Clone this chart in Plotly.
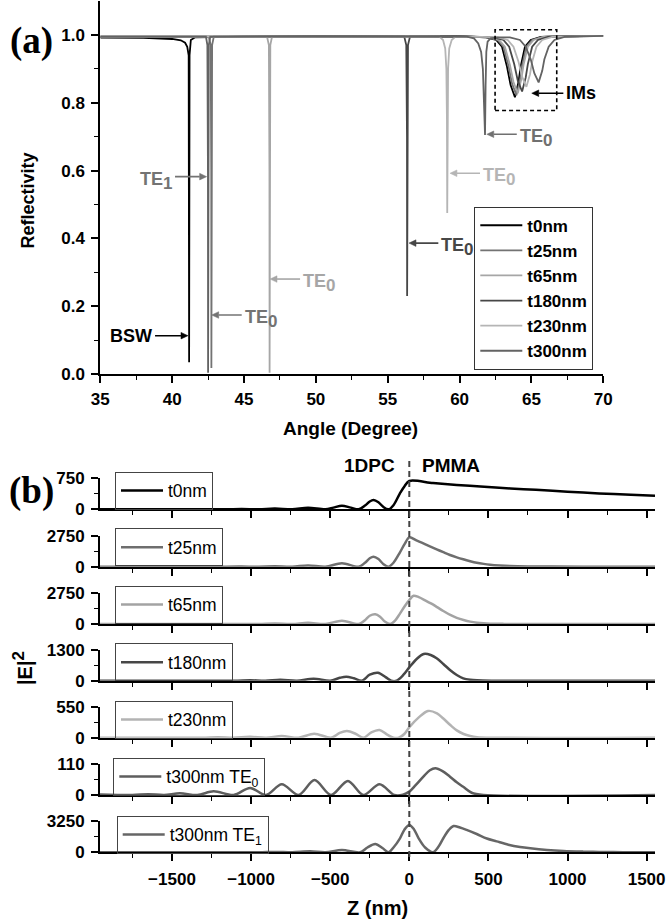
import plotly.graph_objects as go

W, H = 668, 919
FONT = "Liberation Sans, Arial, sans-serif"
SERIF = "Liberation Serif, Times New Roman, serif"

# ---------------- Panel (a): reflectivity vs angle ----------------
names_a = ["t0nm", "t25nm", "t65nm", "t180nm", "t230nm", "t300nm"]
colors_a = ["#000000", "#737373", "#a6a6a6", "#474747", "#b5b5b5", "#636363"]

ang_t0 = [35, 38, 40, 40.6, 40.9, 41.05, 41.15, 41.18, 41.21, 41.3, 41.6, 45, 55, 60,
          61.85, 62.55, 62.95, 63.3, 63.55, 63.85, 64.1, 64.25, 64.55, 64.95, 65.65, 67, 70]
ref_t0 = [0.992, 0.991, 0.988, 0.984, 0.977, 0.965, 0.94, 0.035, 0.94, 0.985, 0.993, 0.995, 0.996, 0.996,
          0.993, 0.985, 0.965, 0.906, 0.852, 0.816, 0.861, 0.906, 0.965, 0.985, 0.994, 0.996, 0.997]

ang_t25 = [35, 42.55, 42.68, 42.72, 42.73, 42.74, 42.78, 42.9, 50, 60,
           61.95, 62.65, 63.05, 63.4, 63.65, 63.95, 64.2, 64.35, 64.65, 65.05, 65.75, 67, 70]
ref_t25 = [0.995, 0.995, 0.97, 0.6, 0.018, 0.6, 0.97, 0.995, 0.996, 0.996,
           0.993, 0.985, 0.965, 0.909, 0.857, 0.822, 0.865, 0.909, 0.965, 0.985, 0.994, 0.996, 0.997]

ang_t65 = [35, 46.6, 46.73, 46.77, 46.78, 46.79, 46.83, 46.95, 55, 60,
           62.05, 62.75, 63.15, 63.5, 63.75, 64.05, 64.3, 64.45, 64.75, 65.15, 65.85, 67, 70]
ref_t65 = [0.995, 0.995, 0.97, 0.6, 0.004, 0.6, 0.97, 0.995, 0.996, 0.996,
           0.993, 0.985, 0.965, 0.912, 0.861, 0.828, 0.870, 0.912, 0.965, 0.985, 0.994, 0.996, 0.997]

ang_t180 = [35, 56.15, 56.29, 56.34, 56.35, 56.36, 56.41, 56.55, 60,
            62.35, 63.05, 63.45, 63.8, 64.05, 64.35, 64.6, 64.75, 65.05, 65.45, 66.15, 67.5, 70]
ref_t180 = [0.995, 0.995, 0.97, 0.7, 0.23, 0.7, 0.97, 0.995, 0.996,
            0.993, 0.985, 0.965, 0.914, 0.865, 0.833, 0.874, 0.914, 0.965, 0.985, 0.994, 0.996, 0.997]

ang_t230 = [35, 58.6, 58.85, 59.0, 59.08, 59.12, 59.14, 59.16, 59.2, 59.28, 59.45, 59.7, 61,
            62.65, 63.35, 63.75, 64.1, 64.35, 64.65, 64.9, 65.05, 65.35, 65.75, 66.45, 68, 70]
ref_t230 = [0.995, 0.995, 0.985, 0.96, 0.9, 0.75, 0.475, 0.75, 0.9, 0.96, 0.985, 0.994, 0.995,
            0.993, 0.985, 0.965, 0.921, 0.877, 0.847, 0.884, 0.921, 0.965, 0.985, 0.994, 0.996, 0.997]

ang_t300 = [35, 42.35, 42.45, 42.49, 42.5, 42.51, 42.55, 42.65, 50, 60.5, 61.0, 61.3, 61.5, 61.62,
            61.71, 61.77, 61.81, 61.86, 61.95, 62.15, 62.6, 63.5, 64.2, 64.6, 64.95, 65.2, 65.5,
            65.75, 65.9, 66.2, 66.6, 67.3, 70]
ref_t300 = [0.995, 0.995, 0.97, 0.6, 0.004, 0.6, 0.97, 0.995, 0.996, 0.995, 0.99, 0.975, 0.95, 0.9,
            0.8, 0.705, 0.85, 0.95, 0.98, 0.99, 0.993, 0.993, 0.985, 0.965, 0.928, 0.887, 0.860,
            0.894, 0.928, 0.965, 0.985, 0.994, 0.997]

angles_a = [ang_t0, ang_t25, ang_t65, ang_t180, ang_t230, ang_t300]
refl_a = [ref_t0, ref_t25, ref_t65, ref_t180, ref_t230, ref_t300]

# ---------------- Panel (b): |E|^2 vs Z ----------------
names_b = ["t0nm", "t25nm", "t65nm", "t180nm", "t230nm", "t300nm TE<sub>0</sub>", "t300nm TE<sub>1</sub>"]
colors_b = ["#000000", "#6e6e6e", "#a3a3a3", "#474747", "#b3b3b3", "#5e5e5e", "#666666"]
ymax_b = [750, 2750, 2750, 1300, 550, 110, 3250]

z1 = [-1955, -1370, -1270, -1160, -1060, -950, -850, -740, -640, -530, -480, -426, -370, -320, -280, -250,
      -226, -195, -165, -131, -100, -60, -30, 0, 150, 300, 450, 638, 800, 1000, 1200, 1400, 1553]
e1 = [1, 0, 4, 0, 8, 0, 18, 0, 39, 0, 40, 87, 40, 0, 90, 190,
      225, 170, 60, 0, 100, 380, 560, 685, 635, 590, 550, 505, 470, 425, 385, 350, 325]

z2 = [-1955, -1160, -1060, -950, -850, -740, -640, -530, -426, -320, -280, -250, -226, -195, -165, -131,
      -100, -60, -30, 0, 45, 89, 130, 173, 215, 257, 300, 341, 385, 426, 470, 510, 570, 636, 750, 900, 1100, 1553]
e2 = [0, 0, 10, 0, 30, 0, 110, 0, 300, 0, 350, 750, 887, 680, 250, 0,
      350, 1250, 2000, 2600, 2330, 2076, 1810, 1543, 1285, 1038, 830, 656, 490, 355, 250, 177, 110, 62, 25, 8, 2, 0]

z3 = [-1955, -1160, -1060, -950, -850, -740, -640, -530, -426, -320, -280, -250, -215, -185, -155, -120,
      -90, -60, -30, 0, 27, 60, 100, 140, 175, 215, 259, 300, 343, 385, 428, 470, 510, 600, 700, 1553]
e3 = [0, 0, 10, 0, 35, 0, 100, 0, 290, 0, 340, 730, 860, 650, 230, 0,
      300, 900, 1550, 2130, 2510, 2380, 2100, 1800, 1500, 1150, 800, 550, 355, 210, 115, 60, 30, 10, 3, 0]

z4 = [-1955, -1110, -1006, -910, -816, -710, -605, -500, -440, -398, -350, -300, -250, -198, -150, -115,
      -80, -38, 0, 45, 91, 135, 173, 215, 257, 300, 341, 385, 428, 520, 1553]
e4 = [0, 0, 20, 0, 40, 0, 84, 0, 120, 168, 100, 0, 250, 335, 150, 0,
      0, 240, 560, 900, 1120, 1080, 940, 700, 450, 240, 100, 40, 15, 0, 0]

z5 = [-1955, -1310, -1210, -1110, -1006, -905, -806, -700, -601, -495, -440, -394, -340, -290, -240, -188,
      -140, -100, -67, -30, 0, 60, 118, 175, 215, 259, 300, 343, 385, 428, 520, 1553]
e5 = [0, 0, 8, 0, 15, 0, 30, 0, 71, 0, 85, 119, 70, 0, 95, 137,
      55, 0, 0, 70, 185, 360, 474, 433, 340, 225, 130, 66, 30, 10, 0, 0]

z6 = [-1955, -1750, -1650, -1550, -1450, -1340, -1237, -1110, -1006, -905, -806, -700, -599, -495, -388,
      -290, -188, -95, -40, 0, 40, 89, 130, 165, 210, 257, 300, 341, 394, 468, 1553]
e6 = [2, 0, 3, 0, 6, 0, 13, 0, 25, 0, 38, 0, 53, 0, 50,
      0, 38, 0, 1, 12, 35, 65, 88, 95, 85, 65, 45, 29, 8, 0, 0]

z7 = [-1955, -1160, -1050, -950, -840, -740, -626, -530, -426, -310, -265, -215, -170, -131, -100, -59, -30,
      0, 30, 59, 100, 150, 185, 215, 250, 280, 320, 362, 426, 490, 552, 626, 700, 765, 870, 975, 1100, 1200,
      1350, 1553]
e7 = [0, 0, 15, 0, 40, 0, 100, 0, 240, 0, 500, 870, 450, 0, 500, 1470, 2400,
      2862, 2400, 1470, 500, 0, 600, 1470, 2350, 2757, 2600, 2350, 1919, 1450, 1150, 800, 560, 420, 250, 140,
      70, 35, 12, 3]

z_b = [z1, z2, z3, z4, z5, z6, z7]
e_b = [e1, e2, e3, e4, e5, e6, e7]

# ---------------- layout helpers (positions in pixels) ----------------
def fx(p):
    return p / W

def fy(p):
    return 1 - p / H

fig = go.Figure()

for name, col, xs, ys in zip(names_a, colors_a, angles_a, refl_a):
    fig.add_trace(go.Scatter(x=xs, y=ys, mode="lines", name=name,
                             line=dict(color=col, width=1.8), xaxis="x", yaxis="y",
                             legend="legend"))

for i, (name, col, xs, ys) in enumerate(zip(names_b, colors_b, z_b, e_b)):
    fig.add_trace(go.Scatter(x=xs, y=ys, mode="lines", name=name,
                             line=dict(color=col, width=2.5, shape="spline", smoothing=0.9),
                             xaxis="x%d" % (i + 2), yaxis="y%d" % (i + 2),
                             legend="legend%d" % (i + 2)))

tickfont = dict(family=FONT, size=17, color="black", weight="bold")

layout = dict(
    width=W, height=H, autosize=False,
    margin=dict(l=0, r=0, t=0, b=0, autoexpand=False),
    paper_bgcolor="white", plot_bgcolor="white",
    font=dict(family=FONT, color="black"),
    showlegend=True,
)

layout["xaxis"] = dict(
    domain=[fx(100.3), fx(603.3)], range=[35, 70], anchor="y",
    tickmode="linear", tick0=35, dtick=5,
    ticks="outside", ticklen=7, tickwidth=1.5, tickcolor="black",
    minor=dict(dtick=2.5, ticks="outside", ticklen=4, tickwidth=1.3, tickcolor="black"),
    showline=True, linecolor="black", linewidth=2, showgrid=False, zeroline=False,
    tickfont=tickfont, ticklabelstandoff=2, automargin=False,
)
layout["yaxis"] = dict(
    domain=[fy(374), fy(1)], range=[0, 1.1], anchor="x",
    tickmode="array", tickvals=[0, 0.2, 0.4, 0.6, 0.8, 1.0],
    ticktext=["0.0", "0.2", "0.4", "0.6", "0.8", "1.0"],
    ticks="outside", ticklen=7, tickwidth=1.5, tickcolor="black",
    minor=dict(tickvals=[0.1, 0.3, 0.5, 0.7, 0.9], ticks="outside", ticklen=4,
               tickwidth=1.3, tickcolor="black"),
    showline=True, linecolor="black", linewidth=2, showgrid=False, zeroline=False,
    tickfont=tickfont, ticklabelstandoff=3, automargin=False,
)
layout["legend"] = dict(
    x=fx(474.3), y=fy(206.7), xanchor="left", yanchor="top",
    bgcolor="white", bordercolor="#333333", borderwidth=1,
    font=dict(family=FONT, size=17, color="black", weight="bold"),
    itemwidth=42, tracegroupgap=0,
)

zero_px = [509.3, 566.7, 624.0, 680.7, 737.7, 795.0, 852.3]
legend_px = [(115, 471.7), (115, 528.3), (115, 585.7), (115, 643.3), (115, 700.7), (113.3, 757.7),
             (116.7, 815.7)]

for i in range(7):
    z0 = zero_px[i]
    ym = ymax_b[i]
    layout["xaxis%d" % (i + 2)] = dict(
        domain=[fx(100), fx(655)], range=[-1955, 1553], anchor="y%d" % (i + 2),
        tickmode="linear", tick0=0, dtick=500,
        ticks="outside", ticklen=7, tickwidth=1.5, tickcolor="black",
        minor=dict(dtick=250, tick0=0, ticks="outside", ticklen=4, tickwidth=1.3, tickcolor="black"),
        showline=True, linecolor="black", linewidth=2, showgrid=False, zeroline=False,
        showticklabels=(i == 6), tickfont=tickfont, ticklabelstandoff=3, automargin=False,
    )
    layout["yaxis%d" % (i + 2)] = dict(
        domain=[fy(z0), fy(z0 - 31)], range=[0, ym], anchor="x%d" % (i + 2),
        tickmode="array", tickvals=[0, ym], ticktext=["0", str(ym)],
        ticks="outside", ticklen=7, tickwidth=1.5, tickcolor="black",
        minor=dict(tickvals=[ym / 2], ticks="outside", ticklen=4, tickwidth=1.3, tickcolor="black"),
        showline=True, linecolor="black", linewidth=2, showgrid=False, zeroline=False,
        tickfont=tickfont, ticklabelstandoff=3, automargin=False,
    )
    lx, ly = legend_px[i]
    layout["legend%d" % (i + 2)] = dict(
        x=fx(lx), y=fy(ly), xanchor="left", yanchor="top",
        bgcolor="rgba(255,255,255,0)", bordercolor="#444444", borderwidth=1,
        font=dict(family=FONT, size=17.5, color="black"),
        itemwidth=42,
    )

fig.update_layout(**layout)

# ---------------- annotations ----------------
ann = []

def text(t, x, y, size, xanchor="center", yanchor="middle", angle=0, color="black",
         family=FONT, weight="bold"):
    ann.append(dict(text=t, x=fx(x), y=fy(y), xref="paper", yref="paper", showarrow=False,
                    xanchor=xanchor, yanchor=yanchor, textangle=angle,
                    font=dict(family=family, size=size, color=color, weight=weight)))

text("(a)", 31, 41, 37, family=SERIF)
text("(b)", 31, 491, 37, family=SERIF)
text("Reflectivity", 27.5, 201, 18, angle=-90)
text("Angle (Degree)", 351, 428, 19)
text("|E|<sup><span style='font-size:17px'>2</span></sup>", 22, 668, 20, angle=-90)
text("Z (nm)", 377, 908, 20)
text("1DPC", 397, 466, 19, xanchor="right")
text("PMMA", 420, 466, 19, xanchor="left")

SUB0 = "TE<sub><span style='font-size:17px'>0</span></sub>"
SUB1 = "TE<sub><span style='font-size:17px'>1</span></sub>"
# arrows with labels in panel (a): (label, head angle, tail angle, R, colour, label side)
arrows_a = [
    (SUB1, 42.40, 40.20, 0.582, "#737373", "right"),
    (SUB0, 42.75, 44.84, 0.174, "#737373", "left"),
    ("BSW", 41.10, 38.81, 0.113, "#000000", "right"),
    (SUB0, 46.81, 48.90, 0.280, "#a6a6a6", "left"),
    (SUB0, 56.48, 58.52, 0.386, "#474747", "left"),
    (SUB0, 59.33, 61.42, 0.592, "#b5b5b5", "left"),
    (SUB0, 61.89, 63.98, 0.707, "#707070", "left"),
    ("IMs", 65.02, 67.22, 0.828, "#000000", "left"),
]
HEAD_LEN = 7 / 14.371      # arrow-head length (7 px) in degrees
HEAD_HW = 3.3 / 339.0      # arrow-head half width (3.3 px) in reflectivity units
shapes = []
for lab, hx, tx, r, col, side in arrows_a:
    d = 1 if tx > hx else -1
    base = hx + d * HEAD_LEN
    shapes.append(dict(type="line", xref="x", yref="y", x0=tx, x1=base, y0=r, y1=r,
                       line=dict(color=col, width=1.6)))
    shapes.append(dict(type="path", xref="x", yref="y",
                       path="M %f,%f L %f,%f L %f,%f Z" % (hx, r, base, r + HEAD_HW, base, r - HEAD_HW),
                       fillcolor=col, line=dict(color=col, width=0.5)))
    ann.append(dict(x=tx, y=r, xref="x", yref="y", text=lab, showarrow=False,
                    xanchor=side, yanchor="middle", yshift=-4 if "sub" in lab else 0,
                    xshift=1 if side == "left" else -1,
                    font=dict(family=FONT, size=18, color=col, weight="bold")))

shapes.append(dict(type="rect", xref="x", yref="y", x0=62.47, x1=66.76, y0=0.777, y1=1.015,
                   line=dict(color="black", width=1.6, dash="4px,3px")))
shapes.append(dict(type="line", xref="x8", yref="paper", x0=0, x1=0, y0=fy(857), y1=fy(457),
                   line=dict(color="#444444", width=2, dash="6px,4px")))

fig.update_layout(annotations=ann, shapes=shapes)

fig.write_html("out.html", config={"displayModeBar": False},
               post_script="document.body.style.margin='0px';document.body.style.padding='0px';")
